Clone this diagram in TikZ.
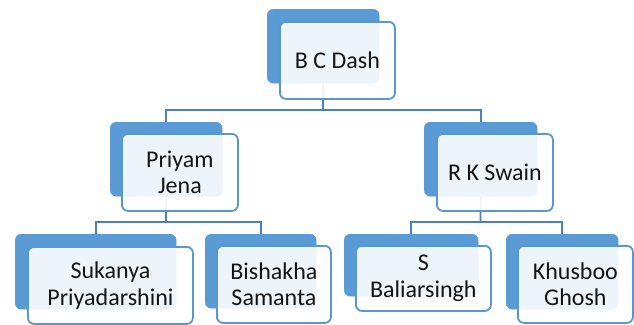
\documentclass[tikz,border=0pt]{standalone}
\usepackage{fontspec}
\setmainfont{Carlito}
\definecolor{backblue}{HTML}{5B9BD5}
\definecolor{edgeblue}{HTML}{5A96D0}
\definecolor{connblue}{HTML}{4A80BE}
\definecolor{txt}{HTML}{141414}
\tikzset{
  backbox/.style={draw=backblue, fill=backblue, rounded corners=6pt, inner sep=0pt, anchor=north west},
  frontbox/.style={draw=edgeblue, line width=1.8pt, fill=white, fill opacity=0.9, text opacity=1,
    rounded corners=6pt, inner sep=0pt, anchor=north west, align=center, text=txt,
    font=\fontsize{24}{26.5}\selectfont},
  conn/.style={draw=connblue, line width=1.7pt}
}
\begin{document}
\begin{tikzpicture}[x=1pt,y=-1pt]
\useasboundingbox (0,0) rectangle (634,324);
% back boxes
\node[backbox, minimum width=112pt, minimum height=74pt] (b0) at (267,9) {};
\node[backbox, minimum width=112pt, minimum height=74pt] (b1) at (110,122) {};
\node[backbox, minimum width=113pt, minimum height=74pt] (b2) at (424,122) {};
\node[backbox, minimum width=161pt, minimum height=75pt] (b3) at (15,234) {};
\node[backbox, minimum width=111pt, minimum height=74pt] (b4) at (205,234) {};
\node[backbox, minimum width=134pt, minimum height=62pt] (b5) at (344,234) {};
\node[backbox, minimum width=112pt, minimum height=75pt] (b6) at (506,234) {};
% connectors
\coordinate (j0) at (323,110);
\coordinate (j1) at (166,222);
\coordinate (j2) at (480.5,222);
\draw[conn] (b0.south) -- (j0);
\draw[conn] (j0) -| (b1.north);
\draw[conn] (j0) -| (b2.north);
\draw[conn] (b1.south) -- (j1);
\draw[conn] (j1) -| (b3.north);
\draw[conn] (j1) -| (b4.north);
\draw[conn] (b2.south) -- (j2);
\draw[conn] (j2) -| (b5.north);
\draw[conn] (j2) -| (b6.north);
% front boxes
\node[frontbox, minimum width=115pt, minimum height=77pt] (f0) at (279,21) {B C Dash};
\node[frontbox, minimum width=116pt, minimum height=77pt] (f1) at (121,133) {Priyam\\Jena};
\node[frontbox, minimum width=116pt, minimum height=77pt] (f2) at (436,133) {R K Swain};
\node[frontbox, minimum width=165pt, minimum height=77pt] (f3) at (27,246) {Sukanya\\Priyadarshini};
\node[frontbox, minimum width=114pt, minimum height=77pt] (f4) at (216,245) {Bishakha\\Samanta};
\node[frontbox, minimum width=135pt, minimum height=65pt] (f5) at (355,245) {S\\Baliarsingh};
\node[frontbox, minimum width=115pt, minimum height=77pt] (f6) at (517,245) {Khusboo\\Ghosh};
\end{tikzpicture}
\end{document}
